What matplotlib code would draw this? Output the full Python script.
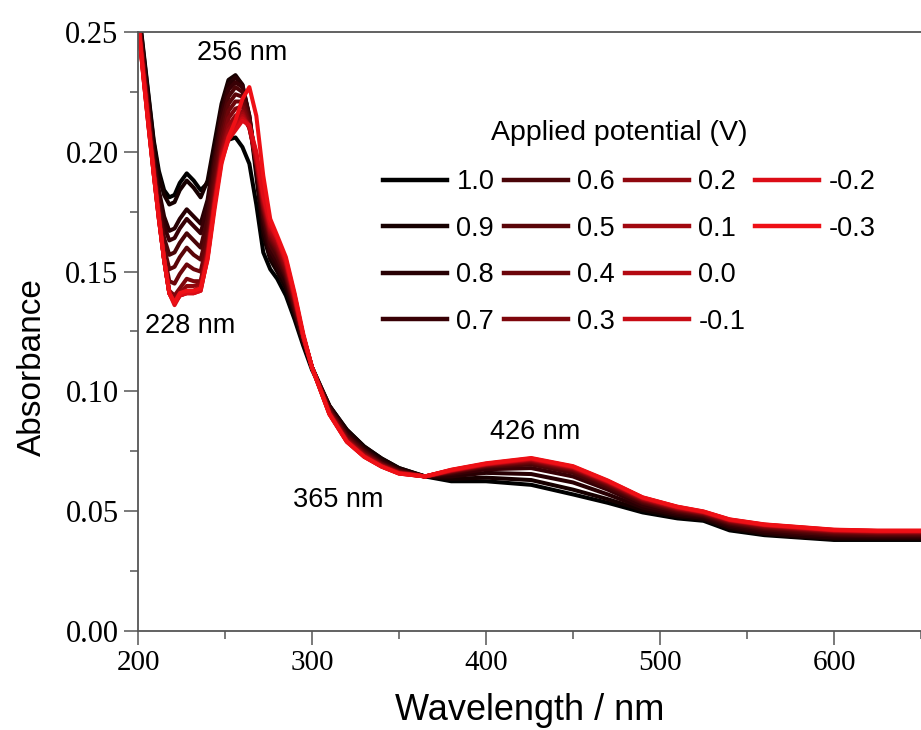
import matplotlib
matplotlib.use("Agg")
import matplotlib.pyplot as plt
from matplotlib.lines import Line2D
from matplotlib.ticker import MultipleLocator, FormatStrFormatter

# ---------------- data ----------------
wavelength = [200, 203, 206, 209, 212, 215, 218, 221, 224, 228, 232, 236, 240, 244, 248, 252,
              256, 260, 264, 268, 272, 276, 280, 285, 290, 295, 300, 310, 320, 330, 340, 350,
              365, 380, 400, 426, 450, 470, 490, 510, 525, 540, 560, 580, 600, 625, 650]

potentials = ["1.0", "0.9", "0.8", "0.7", "0.6", "0.5", "0.4", "0.3", "0.2", "0.1", "0.0",
              "-0.1", "-0.2", "-0.3"]

abs_p10 = [0.262, 0.243, 0.224, 0.205, 0.192, 0.184, 0.181, 0.182, 0.187, 0.191, 0.188, 0.184, 0.187, 0.193, 0.200, 0.205,
           0.206, 0.202, 0.195, 0.178, 0.158, 0.151, 0.147, 0.140, 0.130, 0.119, 0.109, 0.094, 0.084, 0.077, 0.072, 0.068,
           0.0645, 0.0625, 0.0625, 0.0610, 0.0570, 0.0535, 0.0495, 0.0470, 0.0460, 0.0420, 0.0400, 0.0390, 0.0380, 0.0380, 0.0380]
abs_p09 = [0.262, 0.242, 0.223, 0.204, 0.190, 0.182, 0.178, 0.179, 0.184, 0.188, 0.185, 0.181, 0.188, 0.204, 0.220, 0.230,
           0.232, 0.228, 0.214, 0.190, 0.165, 0.155, 0.150, 0.143, 0.132, 0.120, 0.110, 0.094, 0.084, 0.077, 0.072, 0.068,
           0.0645, 0.0635, 0.0640, 0.0630, 0.0590, 0.0550, 0.0505, 0.0478, 0.0466, 0.0428, 0.0405, 0.0393, 0.0385, 0.0385, 0.0385]
abs_p08 = [0.261, 0.240, 0.220, 0.200, 0.184, 0.173, 0.167, 0.168, 0.172, 0.176, 0.173, 0.170, 0.180, 0.199, 0.217, 0.228,
           0.231, 0.228, 0.215, 0.192, 0.168, 0.157, 0.152, 0.145, 0.133, 0.121, 0.110, 0.094, 0.083, 0.076, 0.071, 0.0675,
           0.0645, 0.0645, 0.0660, 0.0655, 0.0620, 0.0570, 0.0515, 0.0485, 0.0472, 0.0435, 0.0410, 0.0398, 0.0390, 0.0390, 0.0390]
abs_p07 = [0.260, 0.239, 0.219, 0.198, 0.181, 0.169, 0.163, 0.164, 0.168, 0.172, 0.169, 0.166, 0.177, 0.197, 0.215, 0.226,
           0.229, 0.227, 0.215, 0.194, 0.171, 0.159, 0.154, 0.147, 0.134, 0.121, 0.110, 0.093, 0.082, 0.0755, 0.0705, 0.067,
           0.0645, 0.0655, 0.0675, 0.0680, 0.0645, 0.0590, 0.0525, 0.0492, 0.0478, 0.0442, 0.0418, 0.0405, 0.0398, 0.0395, 0.0395]
abs_p06 = [0.259, 0.238, 0.217, 0.196, 0.178, 0.164, 0.157, 0.158, 0.162, 0.166, 0.163, 0.160, 0.172, 0.194, 0.212, 0.223,
           0.227, 0.225, 0.214, 0.195, 0.173, 0.161, 0.156, 0.148, 0.135, 0.122, 0.110, 0.093, 0.0815, 0.075, 0.070, 0.0668,
           0.0645, 0.0660, 0.0685, 0.0695, 0.0660, 0.0600, 0.0535, 0.0498, 0.0482, 0.0448, 0.0425, 0.0412, 0.0403, 0.0400, 0.0400]
abs_p05 = [0.258, 0.237, 0.216, 0.195, 0.176, 0.160, 0.151, 0.152, 0.156, 0.160, 0.157, 0.155, 0.167, 0.190, 0.208, 0.220,
           0.224, 0.223, 0.213, 0.196, 0.175, 0.163, 0.158, 0.149, 0.136, 0.122, 0.110, 0.092, 0.081, 0.0745, 0.0698, 0.0665,
           0.0645, 0.0663, 0.0688, 0.0702, 0.0668, 0.0608, 0.0540, 0.0503, 0.0486, 0.0452, 0.0430, 0.0418, 0.0408, 0.0405, 0.0405]
abs_p04 = [0.257, 0.236, 0.215, 0.194, 0.175, 0.157, 0.146, 0.145, 0.149, 0.153, 0.151, 0.150, 0.163, 0.186, 0.205, 0.217,
           0.221, 0.221, 0.212, 0.196, 0.176, 0.164, 0.159, 0.150, 0.137, 0.123, 0.110, 0.092, 0.0805, 0.074, 0.0695, 0.0663,
           0.0645, 0.0665, 0.0690, 0.0706, 0.0672, 0.0612, 0.0544, 0.0506, 0.0489, 0.0455, 0.0433, 0.0422, 0.0412, 0.0408, 0.0408]
abs_p03 = [0.256, 0.235, 0.214, 0.193, 0.174, 0.155, 0.142, 0.140, 0.143, 0.147, 0.146, 0.146, 0.160, 0.183, 0.202, 0.214,
           0.218, 0.219, 0.211, 0.196, 0.177, 0.165, 0.160, 0.151, 0.138, 0.123, 0.110, 0.0915, 0.080, 0.0738, 0.0693, 0.0662,
           0.0645, 0.0667, 0.0692, 0.0710, 0.0676, 0.0616, 0.0547, 0.0509, 0.0491, 0.0458, 0.0436, 0.0425, 0.0415, 0.0411, 0.0411]
abs_p02 = [0.256, 0.234, 0.213, 0.192, 0.173, 0.155, 0.141, 0.138, 0.141, 0.144, 0.144, 0.145, 0.159, 0.181, 0.200, 0.211,
           0.215, 0.217, 0.210, 0.196, 0.178, 0.166, 0.161, 0.152, 0.138, 0.123, 0.110, 0.0912, 0.0798, 0.0735, 0.0691, 0.0661,
           0.0645, 0.0668, 0.0694, 0.0713, 0.0679, 0.0619, 0.0550, 0.0511, 0.0493, 0.0460, 0.0439, 0.0427, 0.0417, 0.0413, 0.0413]
abs_p01 = [0.255, 0.233, 0.212, 0.192, 0.173, 0.155, 0.141, 0.137, 0.140, 0.142, 0.142, 0.144, 0.158, 0.180, 0.199, 0.209,
           0.213, 0.216, 0.210, 0.197, 0.179, 0.167, 0.162, 0.153, 0.139, 0.123, 0.110, 0.0910, 0.0795, 0.0732, 0.0689, 0.0660,
           0.0645, 0.0669, 0.0695, 0.0715, 0.0681, 0.0621, 0.0552, 0.0513, 0.0495, 0.0462, 0.0441, 0.0429, 0.0419, 0.0415, 0.0415]
abs_00 = [0.255, 0.233, 0.212, 0.191, 0.172, 0.155, 0.141, 0.137, 0.140, 0.141, 0.141, 0.143, 0.157, 0.179, 0.198, 0.207,
          0.211, 0.215, 0.210, 0.198, 0.180, 0.168, 0.163, 0.154, 0.139, 0.123, 0.110, 0.0908, 0.0793, 0.0730, 0.0688, 0.0659,
          0.0645, 0.0670, 0.0696, 0.0717, 0.0683, 0.0623, 0.0554, 0.0515, 0.0496, 0.0463, 0.0442, 0.0431, 0.0420, 0.0416, 0.0416]
abs_m01 = [0.255, 0.232, 0.211, 0.191, 0.172, 0.155, 0.141, 0.137, 0.140, 0.141, 0.141, 0.142, 0.156, 0.178, 0.197, 0.206,
           0.210, 0.214, 0.211, 0.199, 0.181, 0.169, 0.164, 0.154, 0.140, 0.123, 0.110, 0.0906, 0.0791, 0.0728, 0.0687, 0.0658,
           0.0645, 0.0671, 0.0697, 0.0719, 0.0685, 0.0625, 0.0556, 0.0517, 0.0497, 0.0464, 0.0443, 0.0432, 0.0421, 0.0417, 0.0417]
abs_m02 = [0.255, 0.232, 0.211, 0.191, 0.172, 0.155, 0.141, 0.136, 0.140, 0.141, 0.141, 0.142, 0.156, 0.178, 0.196, 0.205,
           0.209, 0.213, 0.211, 0.200, 0.182, 0.170, 0.164, 0.155, 0.140, 0.123, 0.110, 0.0905, 0.0790, 0.0727, 0.0686, 0.0657,
           0.0645, 0.0672, 0.0698, 0.0720, 0.0686, 0.0626, 0.0557, 0.0518, 0.0498, 0.0465, 0.0444, 0.0433, 0.0422, 0.0418, 0.0418]
abs_m03 = [0.255, 0.232, 0.211, 0.191, 0.172, 0.155, 0.141, 0.137, 0.141, 0.142, 0.142, 0.143, 0.155, 0.176, 0.195, 0.206,
           0.213, 0.222, 0.227, 0.215, 0.190, 0.172, 0.165, 0.156, 0.141, 0.124, 0.110, 0.0905, 0.0790, 0.0727, 0.0686, 0.0657,
           0.0645, 0.0673, 0.0700, 0.0722, 0.0688, 0.0628, 0.0558, 0.0519, 0.0499, 0.0466, 0.0445, 0.0434, 0.0423, 0.0419, 0.0419]

series = [abs_p10, abs_p09, abs_p08, abs_p07, abs_p06, abs_p05, abs_p04, abs_p03,
          abs_p02, abs_p01, abs_00, abs_m01, abs_m02, abs_m03]

colors = ["#000000", "#160000", "#280003", "#380005", "#4a0407", "#5a0508", "#6c050a", "#7e060c",
          "#90070e", "#a20810", "#b40912", "#c80b14", "#dc0c16", "#ee1016"]

annotations = [("256 nm", 259.8, 0.2413), ("228 nm", 229.9, 0.1271),
               ("426 nm", 428.2, 0.0829), ("365 nm", 315.0, 0.0546)]

# ---------------- figure ----------------
SANS = ["Liberation Sans", "DejaVu Sans"]
SERIF = ["Liberation Serif", "DejaVu Serif"]

fig = plt.figure(figsize=(9.21, 7.30), dpi=100)
ax = fig.add_axes([138 / 921, 99 / 730, 1 - 138 / 921, 599 / 730])

for vals, col in zip(series, colors):
    ax.plot(wavelength, vals, color=col, lw=2.9, solid_capstyle="round", solid_joinstyle="round")

ax.set_xlim(200, 650)
ax.set_ylim(0.0, 0.25)
ax.xaxis.set_major_locator(MultipleLocator(100))
ax.xaxis.set_minor_locator(MultipleLocator(50))
ax.yaxis.set_major_locator(MultipleLocator(0.05))
ax.yaxis.set_minor_locator(MultipleLocator(0.025))
ax.yaxis.set_major_formatter(FormatStrFormatter("%.2f"))

spine_col = "#555555"
for s in ["left", "bottom", "top"]:
    ax.spines[s].set_color(spine_col)
    ax.spines[s].set_linewidth(1.3)
ax.spines["right"].set_visible(False)

ax.tick_params(which="major", direction="out", length=10, width=1.1, color=spine_col, pad=4)
ax.tick_params(which="minor", direction="out", length=6, width=1.1, color=spine_col)
ax.tick_params(top=False, right=False, which="both")
for lab in ax.get_xticklabels():
    lab.set_fontfamily(SERIF)
    lab.set_fontsize(21)
for lab in ax.get_yticklabels():
    lab.set_fontfamily(SERIF)
    lab.set_fontsize(22)

ax.set_xlabel("Wavelength / nm", fontsize=26, family=SANS, labelpad=12)
ax.set_ylabel("Absorbance", fontsize=24, family=SANS)
ax.yaxis.set_label_coords(-0.115, 0.44)

for txt, x, y in annotations:
    ax.text(x, y, txt, fontsize=19.5, family=SANS, ha="center", va="center")

# legend
handles = [Line2D([], [], color=c, lw=3.2) for c in colors]
labels = list(potentials)
handles += [Line2D([], [], color="none"), Line2D([], [], color="none")]
labels += ["", ""]
leg = fig.legend(handles, labels, loc="upper left", ncol=4, frameon=False,
                 bbox_to_anchor=(383 / 921, 1 - 169 / 730), bbox_transform=fig.transFigure,
                 borderpad=0, borderaxespad=0, handlelength=2.35, handletextpad=0.36,
                 columnspacing=0.36, labelspacing=0.76,
                 prop={"family": SANS, "size": 19.5})
fig.text(619 / 921, 1 - 133 / 730, "Applied potential (V)", fontsize=20.5, family=SANS,
         ha="center", va="center")

fig.savefig("out.png", dpi=100)
